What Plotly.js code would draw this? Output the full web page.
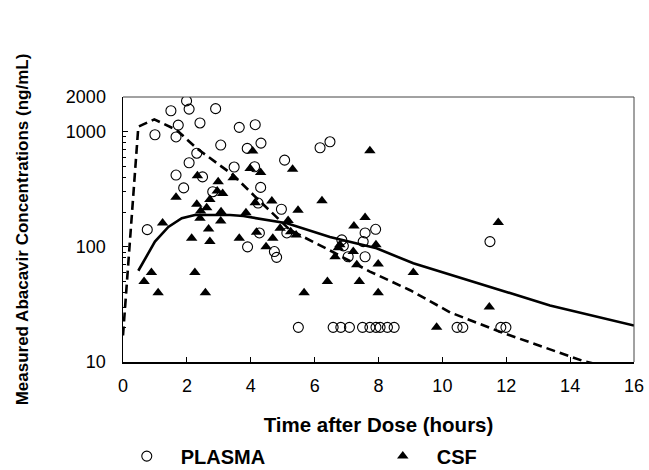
<!DOCTYPE html>
<html><head><meta charset="utf-8">
<script src="https://cdn.plot.ly/plotly-3.0.1.min.js"></script>
<style>html,body{margin:0;padding:0;background:#fff}#chart{width:649px;height:470px}</style>
</head><body><div id="chart"></div>
<script>
// Observed plasma concentrations (open circles)
const plasmaTime = [1.99, 2.07, 1.50, 2.90, 2.41, 1.73, 1.00, 1.66, 3.64, 4.14, 3.06, 2.31, 3.89, 4.32,
  2.07, 3.48, 4.12, 5.06, 1.66, 2.49, 1.90, 2.81, 4.31, 4.23, 4.96, 0.76, 4.27, 5.13, 3.90, 4.74, 4.81,
  6.17, 6.48, 7.58, 7.91, 7.52, 6.85, 6.90, 7.58, 7.05, 11.49,
  5.49, 6.58, 6.82, 7.09, 7.50, 7.73, 7.92, 8.05, 8.28, 8.49, 10.46, 10.64, 11.83, 11.99];
const plasmaConc = [1850, 1570, 1520, 1585, 1190, 1140, 940, 900, 1090, 1150, 765, 650, 716, 796,
  537, 493, 496, 566, 420, 405, 325, 301, 328, 240, 212, 141, 132, 132, 100, 91, 81,
  725, 817, 132, 142, 111, 115, 102, 82, 82, 111,
  20, 20, 20, 20, 20, 20, 20, 20, 20, 20, 20, 20, 20, 20];
// Observed CSF concentrations (filled triangles)
const csfTime = [4.06, 3.98, 4.31, 5.31, 2.33, 2.98, 3.45, 3.12, 2.95, 2.72, 1.66, 2.31, 2.62, 2.43,
  2.41, 3.07, 3.06, 3.85, 4.14, 4.66, 5.48, 1.24, 2.68, 2.15, 2.72, 3.64, 4.92, 5.17, 5.25, 5.42,
  4.69, 4.48, 0.89, 0.66, 2.25, 1.10, 2.58, 5.67, 6.79, 6.64, 7.21, 7.92, 7.32, 7.99, 9.09, 6.40,
  7.40, 7.99, 9.82, 7.73, 6.23, 7.23, 7.58, 6.74, 11.75, 11.47, 4.18];
const csfConc = [679, 480, 443, 471, 414, 367, 398, 291, 305, 258, 269, 234, 218, 205,
  177, 202, 168, 198, 242, 250, 208, 161, 143, 119, 111, 119, 145, 169, 135, 127,
  119, 100, 60, 50, 60, 40, 40, 40, 104, 82, 91, 104, 70, 71, 60, 50,
  50, 40, 20, 683, 251, 152, 180, 98, 163, 30, 134];
// Model-predicted plasma curve (dashed)
const plasmaModelTime = [0, 0.48, 0.98, 1.68, 2.31, 3.45, 4.19, 5.23, 6.48, 7.73, 8.99, 10.24, 11.8, 14.41, 14.8];
const plasmaModelConc = [17, 1104, 1279, 1033, 716, 420, 264, 140, 93, 61, 42, 27, 18.3, 10.2, 9.6];
// Model-predicted CSF curve (solid)
const csfModelTime = [0.48, 1.0, 1.42, 1.84, 2.25, 3.35, 3.77, 4.39, 5.13, 6.48, 7.94, 9.09, 10.44, 11.91, 13.37, 16];
const csfModelConc = [62, 111, 149, 177, 189, 189, 185, 173, 160, 122, 97, 72, 55, 41, 31, 20.7];

const xTicks = [0, 2, 4, 6, 8, 10, 12, 14, 16];
const yTickVals = [10, 100, 1000, 2000];
const yTickText = ['10', '100', '1000', '2000'];

const FONT = 'Liberation Sans, Arial, Helvetica, sans-serif';

const traces = [
  {x: plasmaTime, y: plasmaConc, type: 'scatter', mode: 'markers', name: 'PLASMA',
   marker: {symbol: 'circle-open', size: 10, color: '#000', line: {width: 1.1, color: '#000'}}},
  {x: csfTime, y: csfConc, type: 'scatter', mode: 'markers', name: 'CSF',
   marker: {symbol: 'triangle-up', size: 10, color: '#000'}},
  {x: plasmaModelTime, y: plasmaModelConc, type: 'scatter', mode: 'lines', showlegend: false,
   line: {color: '#000', width: 2.6, dash: '9px,5px'}},
  {x: csfModelTime, y: csfModelConc, type: 'scatter', mode: 'lines', showlegend: false,
   line: {color: '#000', width: 2.6}}
];

const layout = {
  width: 649, height: 470,
  margin: {l: 123, r: 15, t: 97, b: 108, autoexpand: false},
  paper_bgcolor: '#fff', plot_bgcolor: '#fff',
  font: {family: FONT, color: '#000', size: 18},
  showlegend: true,
  legend: {orientation: 'h', x: -0.02, y: -0.355, xanchor: 'left', yanchor: 'middle',
    font: {family: FONT, size: 20, color: '#000', weight: 'bold'},
    entrywidth: 183, entrywidthmode: 'pixels', itemwidth: 58, bgcolor: 'rgba(0,0,0,0)'},
  xaxis: {
    range: [0, 16], tickvals: xTicks, ticks: 'inside', ticklen: 5, tickcolor: '#000',
    showgrid: false, zeroline: false, showline: true, linecolor: '#000', linewidth: 1.5,
    automargin: false, ticklabelstandoff: 7,
    tickfont: {family: FONT, size: 18, color: '#000'},
    title: {text: 'Time after Dose (hours)', font: {family: FONT, size: 20.5, color: '#000', weight: 'bold'}, standoff: 22}
  },
  yaxis: {
    type: 'log', range: [1, Math.log10(2000)], tickvals: yTickVals, ticktext: yTickText,
    ticks: 'inside', ticklen: 5, tickcolor: '#000',
    minor: {ticks: 'inside', ticklen: 3, tickcolor: '#000', dtick: 'D1', showgrid: false},
    showgrid: false, zeroline: false, showline: true, linecolor: '#000', linewidth: 1.5,
    automargin: false, ticklabelstandoff: 12,
    tickfont: {family: FONT, size: 18, color: '#000'},
    title: {text: 'Measured Abacavir Concentrations (ng/mL)', font: {family: FONT, size: 17, color: '#000', weight: 'bold'}, standoff: 33}
  },
  shapes: [
    {type: 'line', xref: 'x domain', yref: 'y domain', x0: 0, x1: 1, y0: 1, y1: 1, line: {color: '#444', width: 1}},
    {type: 'line', xref: 'x domain', yref: 'y domain', x0: 1, x1: 1, y0: 0, y1: 1, line: {color: '#444', width: 1}}
  ]
};

Plotly.newPlot('chart', traces, layout, {displayModeBar: false, staticPlot: true});
</script>
</body></html>
